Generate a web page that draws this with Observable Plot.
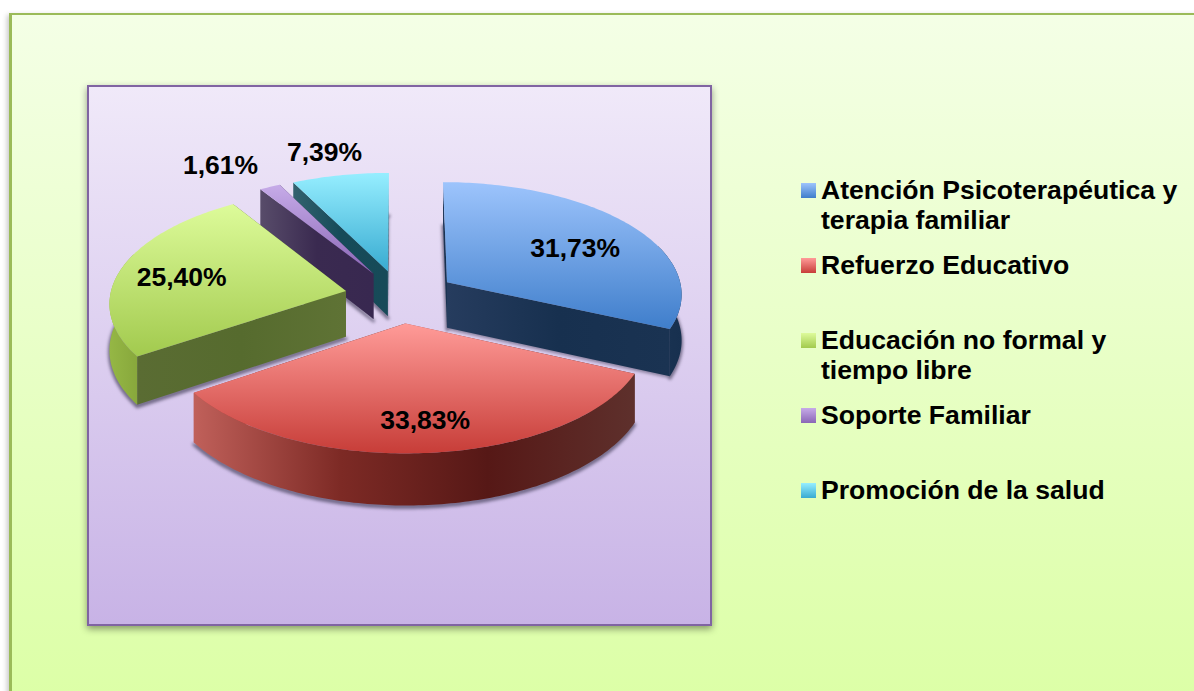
<!DOCTYPE html>
<html><head><meta charset="utf-8">
<script src="https://cdn.jsdelivr.net/npm/d3@7"></script>
<script src="https://cdn.jsdelivr.net/npm/@observablehq/plot@0.6"></script>
<style>
html,body{margin:0;padding:0;background:#fff;overflow:hidden}
#stage{position:relative;width:1194px;height:691px;overflow:hidden;font-family:"Liberation Sans",Arial,sans-serif}
#outer{position:absolute;left:9px;top:13px;width:1190px;height:690px;box-sizing:border-box;border:solid #9bbb59;border-width:2px 0 0 3px;background:linear-gradient(#f4ffe6,#dcffa6);box-shadow:-2px 2px 5px rgba(0,0,0,.22)}
#panel{position:absolute;left:87px;top:85px;width:625px;height:541px;box-sizing:border-box;border:2px solid #8064a2;background:linear-gradient(#f0e9f9,#c8b3e6);box-shadow:0 3px 7px rgba(0,0,0,.4)}
#chart{position:absolute;left:0;top:0}
#legend{position:absolute;left:801px;top:175px;width:385px;font-weight:bold;font-size:26.6px;line-height:30px;color:#000}
.row{display:flex;align-items:flex-start;height:75px}
.sw{flex:none;width:15px;height:15px;margin-top:8px;margin-right:5px}
.tx{width:360px}
</style></head><body>
<div id="stage"><div id="outer"></div><div id="panel"></div><div id="chart"></div><div id="legend"></div></div>
<script>
const categories = ["Atención Psicoterapéutica y terapia familiar","Refuerzo Educativo","Educación no formal y tiempo libre","Soporte Familiar","Promoción de la salud"];
const values = [31.73,33.83,25.40,1.61,7.39];
const topColors = [["#9dc4fc","#3f7ecb"],["#ff9b98","#c73d38"],["#ddfb9a","#a2ca4e"],["#c6abe8","#8a66b6"],["#96eeff","#38abd1"]];
const wallColors = [["#263c5e","#17304f","#1a3352"],["#b9524e","#5a1a17","#5e302c"],["#5a6c33","#566b2e","#5f7335"],["#584c6a","#3a2a50","#382850"],["#33626f","#164b59","#174a58"]];
const arcColors = [["#1a3352","#17304f"],["#c0605a","#7d2a25","#561816","#5e302c"],["#95b745","#88a83c"],["#555","#555"],["#555","#555"]];
const labelRadius = [0.654,0.767,0.72,1.33,1.27];
const labelTurn = [3.8,-0.8,-2.3,-4.3,-0.9];
const drawOrder = [4,3,0,2,1];

const CX=400, CY=296, R=236, EXPLODE=56, TILT=0.475, PERSP=0.0004, DEPTH=46;
const rad = d => d*Math.PI/180;
const project = ([X,Y],z=0) => { const s=1/(1-PERSP*Y); return {x:CX+X*s, y:CY+TILT*Y*s+z*s}; };
const total = d3.sum(values);
let acc = 0;
const slices = values.map((v,i)=>{
  const a0 = acc/total*360; acc += v; const a1 = acc/total*360; const m=(a0+a1)/2;
  const apex=[EXPLODE*Math.sin(rad(m)),-EXPLODE*Math.cos(rad(m))];
  const rim=(a,r=R)=>[apex[0]+r*Math.sin(rad(a)),apex[1]-r*Math.cos(rad(a))];
  const arcAngles=(p,q)=>[...d3.range(p,q,1),q];
  const angles=arcAngles(a0,a1);
  return {i,a0,a1,m,apex,rim,arcAngles,angles};
});
const topFace = s => [project(s.apex),...s.angles.map(a=>project(s.rim(a)))];
const bottomFace = s => [project(s.apex,DEPTH),...s.angles.map(a=>project(s.rim(a),DEPTH))];
const radialWall = (s,a) => [project(s.apex),project(s.rim(a)),project(s.rim(a),DEPTH),project(s.apex,DEPTH)];
const arcWall = s => {
  const p=Math.max(s.a0,70), q=Math.min(s.a1,290);
  if(q<=p) return null;
  const as=s.arcAngles(p,q);
  return [...as.map(a=>project(s.rim(a))),...as.slice().reverse().map(a=>project(s.rim(a),DEPTH))];
};
const stopsOf = (cols)=>cols.map((c,k)=>`<stop offset="${k/(cols.length-1)}" stop-color="${c}"/>`).join("");
const defsMark = () => {
  const g=d3.create("svg:defs");
  let h="";
  slices.forEach(s=>{
    h+=`<linearGradient id="top${s.i}" x1="0" y1="0" x2="0" y2="1">${stopsOf(topColors[s.i])}</linearGradient>`;
    h+=`<linearGradient id="wall${s.i}" x1="0" y1="0" x2="1" y2="0">${stopsOf(wallColors[s.i])}</linearGradient>`;
    h+=`<linearGradient id="arc${s.i}" x1="0" y1="0" x2="1" y2="0">${stopsOf(arcColors[s.i])}</linearGradient>`;
  });
  g.html(h);
  return g.node();
};
const poly=(pts,fill,extra={})=>Plot.line(pts,{x:"x",y:"y",fill,stroke:"none",...extra});

const marks=[defsMark];
slices.forEach(s=>marks.push(poly(bottomFace(s).map(p=>({x:p.x,y:p.y+2})),"#4a4560",{stroke:"#4a4560",strokeWidth:3.5,fillOpacity:.55,strokeOpacity:.55,imageFilter:"blur(1.5px)"})));
drawOrder.forEach(i=>{
  const s=slices[i];
  marks.push(poly(radialWall(s,s.a1),`url(#wall${i})`));
  marks.push(poly(radialWall(s,s.a0),`url(#wall${i})`));
  const aw=arcWall(s); if(aw) marks.push(poly(aw,`url(#arc${i})`));
  marks.push(poly(topFace(s),`url(#top${i})`));
});
const labels=slices.map(s=>{
  const p=project(s.rim(s.m+labelTurn[s.i],R*labelRadius[s.i]));
  return {x:p.x,y:p.y,text:values[s.i].toFixed(2).replace(".",",")+"%"};
});
marks.push(Plot.text(labels,{x:"x",y:"y",text:"text",fontSize:26.5,fontWeight:"bold",fill:"#000",fontFamily:"Liberation Sans"}));

const plot=Plot.plot({width:1194,height:691,margin:0,
  x:{domain:[0,1194],range:[0,1194],axis:null},
  y:{domain:[0,691],range:[0,691],axis:null},
  style:{background:"transparent"},marks});
document.getElementById("chart").append(plot);

const legend=d3.select("#legend");
categories.forEach((c,i)=>{
  const r=legend.append("div").attr("class","row");
  r.append("div").attr("class","sw").style("background",`linear-gradient(${topColors[i][0]},${topColors[i][1]})`);
  r.append("div").attr("class","tx").text(c);
});
</script></body></html>
